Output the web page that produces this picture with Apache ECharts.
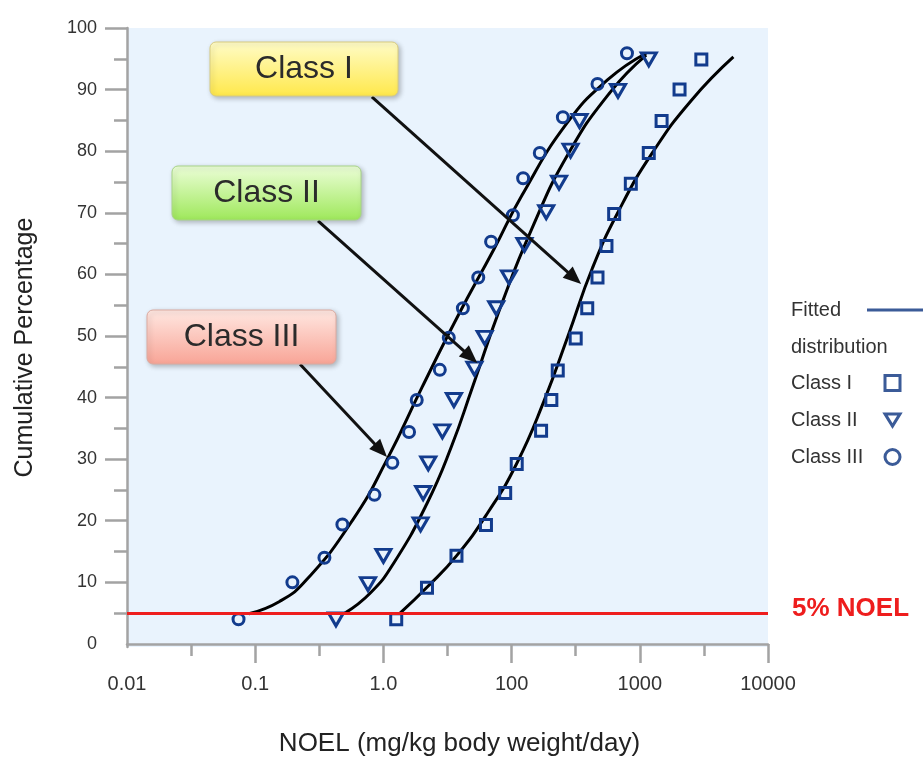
<!DOCTYPE html>
<html>
<head>
<meta charset="utf-8">
<title>NOEL cumulative distribution</title>
<script src="https://cdn.jsdelivr.net/npm/echarts@6/dist/echarts.min.js"></script>
<style>
  html, body { margin: 0; padding: 0; background: #fff; }
  #chart { width: 924px; height: 761px; }
</style>
</head>
<body>
<div id="chart"></div>
<script>
// x is measured in steps of the printed axis: 0 = "0.01" ... 5 = "10000"
const xTickLabels = ['0.01', '0.1', '1.0', '100', '1000', '10000'];
const xLabelValues = [0, 1, 2, 3, 4, 5];
const xMajorTicks = [1, 2, 3, 4, 5];
const xMinorTicks = [0.5, 1.5, 2.5, 3.5, 4.5];
const yLabelValues = [0, 10, 20, 30, 40, 50, 60, 70, 80, 90, 100];
const yMajorTicks = [10, 20, 30, 40, 50, 60, 70, 80, 90, 100];
const yMinorTicks = [5, 15, 25, 35, 45, 55, 65, 75, 85, 95];
const noelLevel = 5;

// observed points [x step, cumulative %]
const classIPoints = [
  [2.10, 4.0], [2.34, 9.1], [2.57, 14.3], [2.80, 19.3], [2.95, 24.5], [3.04, 29.2],
  [3.23, 34.6], [3.31, 39.6], [3.36, 44.4], [3.50, 49.6], [3.59, 54.5], [3.67, 59.5],
  [3.74, 64.6], [3.80, 69.8], [3.93, 74.7], [4.07, 79.7], [4.17, 84.9], [4.31, 90.0],
  [4.48, 94.9]
];
const classIIPoints = [
  [1.63, 4.0], [1.88, 9.7], [2.00, 14.3], [2.29, 19.4], [2.31, 24.5], [2.35, 29.3],
  [2.46, 34.5], [2.55, 39.6], [2.71, 44.7], [2.79, 49.7], [2.88, 54.5], [2.98, 59.5],
  [3.10, 64.8], [3.27, 70.1], [3.37, 74.9], [3.46, 80.1], [3.53, 84.9], [3.83, 89.8],
  [4.07, 94.9]
];
const classIIIPoints = [
  [0.87, 4.0], [1.29, 10.0], [1.54, 14.0], [1.68, 19.4], [1.93, 24.2], [2.07, 29.4],
  [2.20, 34.4], [2.26, 39.6], [2.44, 44.5], [2.51, 49.7], [2.62, 54.5], [2.74, 59.5],
  [2.84, 65.3], [3.01, 69.6], [3.09, 75.6], [3.22, 79.7], [3.40, 85.5], [3.67, 90.9],
  [3.90, 95.9]
];

// fitted curves
const classICurve = [
  [2.13, 5.0], [2.34, 9.2], [2.57, 14.3], [2.82, 21.5], [3.04, 29.3], [3.25, 39.3],
  [3.44, 50.0], [3.63, 61.0], [3.84, 70.5], [4.10, 79.8], [4.40, 88.2], [4.73, 95.3]
];
const classIICurve = [
  [1.70, 5.0], [1.90, 8.3], [2.08, 13.1], [2.34, 22.8], [2.53, 32.0], [2.70, 42.0],
  [2.91, 54.5], [3.16, 67.5], [3.44, 79.5], [3.77, 89.6], [4.05, 95.6]
];
const classIIICurve = [
  [0.95, 4.9], [1.19, 6.9], [1.40, 10.4], [1.76, 20.1], [2.03, 30.0], [2.30, 41.6],
  [2.58, 53.2], [2.86, 64.0], [3.08, 72.8], [3.43, 84.5], [3.75, 91.6], [4.05, 95.9]
];

// callout arrows [from, to] in axis units
const arrowLines = [
  [[1.91, 88.8], [3.49, 59.4]],
  [[1.49, 68.7], [2.68, 46.6]],
  [[1.35, 45.4], [1.98, 31.4]]
];

// callout boxes (pixels)
const boxes = [
  { text: 'Class I', x: 210, y: 42, w: 188, h: 54, c1: '#fffcc8', c2: '#ffe84a', stroke: '#d8cc80' },
  { text: 'Class II', x: 172, y: 166, w: 189, h: 54, c1: '#ecfed8', c2: '#9ee85a', stroke: '#a8d488' },
  { text: 'Class III', x: 147, y: 310, w: 189, h: 54, c1: '#ffe8e2', c2: '#f8a496', stroke: '#dcaaa0' }
];

const font = 'Liberation Sans, Arial, sans-serif';
const markColor = '#123b8d';
const legendColor = '#3b5b98';
const axisGray = '#a3a3a3';

const chart = echarts.init(document.getElementById('chart'));

function curveSeries(data, extra) {
  return Object.assign({
    name: 'Fitted distribution',
    type: 'line',
    data: data,
    smooth: 0.5,
    symbol: 'none',
    lineStyle: { color: '#000', width: 3 },
    itemStyle: { color: '#000' },
    z: 3
  }, extra || {});
}

const graphics = [];
boxes.forEach(function (b) {
  graphics.push({
    type: 'rect',
    z: 100,
    shape: { x: b.x, y: b.y, width: b.w, height: b.h, r: 6 },
    style: {
      fill: { type: 'linear', x: 0, y: 0, x2: 0, y2: 1, colorStops: [{ offset: 0, color: b.c1 }, { offset: 1, color: b.c2 }] },
      stroke: b.stroke,
      lineWidth: 1,
      shadowBlur: 5,
      shadowOffsetX: 2,
      shadowOffsetY: 2,
      shadowColor: 'rgba(0,0,0,0.25)'
    }
  });
  graphics.push({
    type: 'text',
    z: 101,
    x: b.x + b.w / 2,
    y: b.y + b.h / 2,
    style: {
      text: b.text,
      fill: '#2b2b2b',
      font: '32px ' + font,
      align: 'center',
      verticalAlign: 'middle'
    }
  });
});

const legendMark = { color: 'rgba(0,0,0,0)', borderColor: legendColor, borderWidth: 3 };

chart.setOption({
  animation: false,
  textStyle: { fontFamily: font },
  grid: {
    left: 127, right: 156, top: 28, bottom: 114,
    outerBoundsMode: 'none',
    containLabel: false,
    show: true, backgroundColor: '#e9f3fd', borderWidth: 0
  },
  legend: [
    {
      data: [{
        name: 'Fitted distribution',
        lineStyle: { color: legendColor, width: 3 },
        itemStyle: { color: 'rgba(0,0,0,0)', borderColor: 'rgba(0,0,0,0)', borderWidth: 0 }
      }],
      orient: 'vertical',
      align: 'right',
      left: 791,
      top: 263,
      padding: 0,
      itemWidth: 56,
      itemHeight: 14,
      selectedMode: false,
      formatter: function () { return '{a| }\n{a|Fitted}\n{a|distribution}'; },
      textStyle: {
        rich: { a: { width: 71, align: 'left', fontSize: 20, lineHeight: 37, color: '#333', fontFamily: font } }
      }
    },
    {
      data: [
        { name: 'Class I', itemStyle: legendMark },
        { name: 'Class II', itemStyle: legendMark, icon: 'path://M0,0L16,0L8,13Z' },
        { name: 'Class III', itemStyle: legendMark }
      ],
      orient: 'vertical',
      align: 'right',
      left: 791,
      top: 373,
      padding: 0,
      itemWidth: 15,
      itemHeight: 15,
      itemGap: 17,
      selectedMode: false,
      formatter: function (name) { return '{a|' + name + '}'; },
      textStyle: {
        rich: { a: { width: 89, align: 'left', fontSize: 20, lineHeight: 23, color: '#333', fontFamily: font } }
      }
    }
  ],
  xAxis: [
    {
      type: 'value', min: 0, max: 5,
      name: 'NOEL (mg/kg body weight/day)',
      nameLocation: 'middle',
      nameGap: 84,
      nameTextStyle: { fontSize: 26, color: '#222', padding: [0, 0, 0, 24] },
      axisLine: { lineStyle: { color: axisGray, width: 2.5 } },
      axisTick: { customValues: xMajorTicks, length: 19, lineStyle: { color: axisGray, width: 2.5 } },
      axisLabel: {
        customValues: xLabelValues,
        formatter: function (v) { return xTickLabels[Math.round(v)]; },
        margin: 27, fontSize: 20, color: '#333'
      },
      splitLine: { show: false }
    },
    {
      type: 'value', min: 0, max: 5, position: 'bottom',
      axisLine: { show: false },
      axisTick: { customValues: xMinorTicks, length: 12, lineStyle: { color: axisGray, width: 2.5 } },
      axisLabel: { show: false },
      splitLine: { show: false }
    }
  ],
  yAxis: [
    {
      type: 'value', min: -0.5, max: 100,
      name: 'Cumulative Percentage',
      nameLocation: 'middle',
      nameGap: 89,
      nameTextStyle: { fontSize: 25, color: '#222', padding: [0, 20, 0, 0] },
      axisLine: { show: true, lineStyle: { color: axisGray, width: 2.5 } },
      axisTick: { show: true, customValues: yMajorTicks, length: 22, lineStyle: { color: axisGray, width: 2.5 } },
      axisLabel: { customValues: yLabelValues, margin: 30, fontSize: 18, color: '#333' },
      splitLine: { show: false }
    },
    {
      type: 'value', min: -0.5, max: 100, position: 'left',
      axisLine: { show: false },
      axisTick: { show: true, customValues: yMinorTicks, length: 13, lineStyle: { color: axisGray, width: 2.5 } },
      axisLabel: { show: false },
      splitLine: { show: false }
    }
  ],
  series: [
    curveSeries(classICurve, {
      markLine: {
        silent: true,
        symbol: ['none', 'none'],
        data: [{ yAxis: noelLevel }],
        lineStyle: { color: '#ee1d1d', width: 3, type: 'solid' },
        label: {
          show: true, position: 'end', formatter: '5% NOEL', distance: 24,
          verticalAlign: 'bottom', lineHeight: 9,
          color: '#ee1d1d', fontSize: 26, fontWeight: 'bold'
        }
      }
    }),
    curveSeries(classIICurve),
    curveSeries(classIIICurve, {
      markLine: {
        silent: true,
        symbol: ['none', 'triangle'],
        symbolSize: [15, 18],
        data: arrowLines.map(function (a) { return [{ coord: a[0] }, { coord: a[1] }]; }),
        lineStyle: { color: '#111', width: 3, type: 'solid' },
        itemStyle: { color: '#111' },
        label: { show: false }
      }
    }),
    {
      name: 'Class I', type: 'scatter', data: classIPoints,
      symbol: 'rect', symbolSize: 11, z: 4,
      itemStyle: { color: 'rgba(0,0,0,0)', borderColor: markColor, borderWidth: 3, opacity: 1 }
    },
    {
      name: 'Class II', type: 'scatter', data: classIIPoints,
      symbol: 'triangle', symbolRotate: 180, symbolSize: [15, 13], z: 4,
      itemStyle: { color: 'rgba(0,0,0,0)', borderColor: markColor, borderWidth: 3, opacity: 1 }
    },
    {
      name: 'Class III', type: 'scatter', data: classIIIPoints,
      symbol: 'circle', symbolSize: 11, z: 4,
      itemStyle: { color: 'rgba(0,0,0,0)', borderColor: markColor, borderWidth: 3, opacity: 1 }
    }
  ],
  graphic: graphics
});
</script>
</body>
</html>
